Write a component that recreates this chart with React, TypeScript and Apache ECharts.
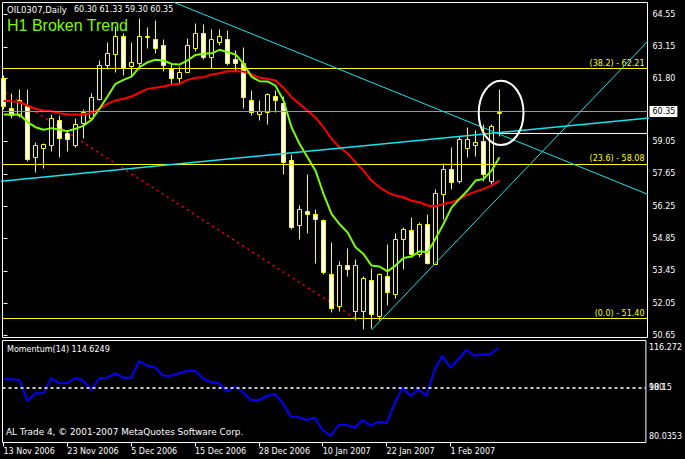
import React, { useEffect, useRef } from "react";
import * as echarts from "echarts";

const symbolName = "OIL0307";
const timeframe = "Daily";

const opens = [61.82, 60.52, 60.18, 60.57, 58.36, 58.75, 58.92, 60.0, 59.4, 58.88, 59.87, 60.09, 60.87, 62.38, 62.86, 63.64, 62.34, 62.43, 63.57, 63.51, 63.21, 62.21, 61.82, 62.08, 63.08, 63.77, 62.69, 63.34, 63.51, 62.64, 62.47, 60.83, 60.26, 60.31, 61.0, 60.74, 58.27, 55.45, 56.06, 55.93, 55.67, 53.33, 51.95, 53.72, 51.73, 51.73, 53.07, 51.51, 53.25, 52.47, 54.81, 55.24, 54.2, 55.5, 53.77, 56.8, 57.84, 57.36, 58.79, 58.88, 59.09, 57.36, 60.3];
const highs = [61.91, 61.13, 61.34, 61.34, 59.02, 59.0, 60.26, 60.22, 59.53, 60.09, 60.48, 61.17, 62.56, 63.34, 64.07, 63.73, 63.34, 64.38, 63.99, 64.29, 63.51, 62.47, 62.34, 63.55, 64.16, 64.12, 63.94, 63.94, 63.86, 63.03, 63.16, 61.26, 60.83, 61.15, 61.26, 61.0, 58.53, 56.32, 57.66, 56.11, 55.71, 54.68, 53.9, 54.42, 53.98, 53.25, 53.59, 53.38, 54.63, 55.07, 55.37, 55.8, 55.58, 55.93, 57.01, 58.14, 58.83, 59.27, 59.66, 59.53, 59.83, 59.83, 61.33];
const lows = [60.48, 60.09, 60.13, 58.22, 57.72, 57.92, 58.66, 58.36, 58.62, 58.8, 59.22, 59.97, 60.83, 62.21, 62.04, 61.91, 61.91, 62.21, 63.08, 62.9, 62.12, 61.56, 61.56, 62.04, 62.99, 62.64, 62.25, 63.21, 62.38, 62.12, 60.52, 60.18, 60.0, 59.83, 60.35, 57.66, 55.28, 54.85, 55.07, 53.81, 53.33, 51.69, 51.73, 53.25, 51.34, 50.95, 50.99, 51.34, 51.99, 52.29, 53.55, 54.07, 54.07, 53.77, 53.77, 55.71, 57.01, 57.27, 58.36, 58.44, 57.36, 57.23, 59.3];
const closes = [60.61, 60.22, 60.83, 58.31, 58.88, 58.96, 60.09, 59.22, 59.14, 59.83, 60.31, 60.96, 62.38, 62.9, 63.64, 62.25, 62.51, 63.64, 63.6, 63.12, 62.38, 61.82, 62.08, 63.25, 63.77, 62.69, 63.47, 63.6, 62.47, 62.43, 60.96, 60.35, 60.39, 61.09, 60.83, 58.18, 55.33, 56.15, 55.93, 55.71, 53.42, 51.86, 53.72, 53.55, 53.72, 53.16, 51.6, 53.33, 52.55, 54.81, 55.28, 54.2, 55.5, 53.81, 56.84, 57.88, 57.32, 59.14, 59.18, 59.05, 57.66, 59.74, 60.35];

const maFast = [60.22, 60.22, 60.22, 59.89, 59.67, 59.56, 59.63, 59.56, 59.5, 59.6, 59.74, 59.99, 60.47, 61.0, 61.55, 61.72, 61.86, 62.27, 62.48, 62.59, 62.56, 62.41, 62.38, 62.56, 62.8, 62.85, 62.87, 63.02, 62.92, 62.82, 62.42, 61.86, 61.66, 61.65, 61.47, 60.83, 59.67, 58.95, 58.37, 57.79, 56.78, 55.92, 55.48, 55.12, 54.47, 54.18, 53.68, 53.64, 53.43, 53.68, 54.01, 54.07, 54.3, 54.26, 54.84, 55.48, 56.19, 56.57, 56.93, 57.36, 57.43, 57.79, 58.37];
const maSlow = [60.8, 60.8, 60.75, 60.61, 60.47, 60.39, 60.36, 60.28, 60.22, 60.22, 60.22, 60.28, 60.47, 60.68, 60.83, 60.9, 61.0, 61.17, 61.33, 61.38, 61.43, 61.52, 61.55, 61.72, 61.81, 61.83, 61.95, 62.01, 62.09, 62.09, 62.08, 61.95, 61.81, 61.77, 61.69, 61.38, 60.97, 60.68, 60.39, 60.09, 59.67, 59.17, 58.8, 58.54, 58.15, 57.79, 57.36, 57.07, 56.85, 56.71, 56.64, 56.49, 56.42, 56.28, 56.25, 56.35, 56.42, 56.57, 56.75, 56.88, 57.0, 57.14, 57.36];

const momentum = [103.38, 103.38, 103.1, 94.45, 97.62, 97.62, 103.8, 101.74, 101.74, 104.04, 102.68, 98.98, 103.8, 104.04, 105.85, 104.04, 104.04, 110.92, 108.98, 108.33, 104.87, 104.87, 105.85, 106.8, 106.92, 103.8, 102.15, 101.74, 98.28, 100.34, 98.03, 94.86, 94.86, 96.51, 97.33, 93.5, 87.98, 87.74, 86.63, 87.57, 82.51, 80.04, 84.56, 84.56, 83.45, 86.63, 84.27, 85.92, 85.27, 93.5, 99.92, 96.63, 99.27, 96.63, 107.21, 113.1, 108.16, 111.74, 115.45, 113.1, 113.68, 113.8, 116.27];
const momentumPeriod = 14;
const momentumHeaderValue = "114.6249";
const momentumTicks = [116.272, 100, 80.0353];
const momentumMidLabel = "98.15";
const momentumLevel = 100;

const priceTicks = [64.55, 63.15, 61.8, 59.05, 57.65, 56.25, 54.85, 53.45, 52.05, 50.65];
const currentPrice = 60.35;

const dateTickBars = [0, 8, 16, 24, 32, 40, 48, 56];
const dateLabels = ["13 Nov 2006", "23 Nov 2006", "5 Dec 2006", "15 Dec 2006", "28 Dec 2006", "10 Jan 2007", "22 Jan 2007", "1 Feb 2007"];

const fibRatios = ["38.2", "23.6", "0.0"];
const fibPrices = [62.21, 58.08, 51.4];
const fibTrend = [[-1, 61.46], [43.94, 51.4]];

const trendDown = [[20, 65.26], [81, 56.7]];
const trendShallow = [[-1, 57.31], [81, 60.08]];
const trendSteep = [[46.0, 50.89], [81, 63.56]];
const highlightLevel = [[62, 59.4], [81.4, 59.4]];
const ellipseCenter = [62.2, 60.29];
const ellipseRadius = [2.8, 1.39];

const titleLabel = "H1 Broken Trend";
const copyright = "AL Trade 4, \u00a9 2001-2007 MetaQuotes Software Corp.";

const X_MIN = -0.125;
const X_MAX = 80.5;
const Y_MIN = 50.567;
const Y_MAX = 65.069;
const M_MIN = 77.36;
const M_MAX = 119.36;

const FONT = "DejaVu Sans";
const FS = 8;
const YELLOW = "#ffff00";
const CYAN = "#17e4ee";

export default function App() {
  const ref = useRef<HTMLDivElement>(null);
  useEffect(() => {
    if (!ref.current) return;
    const chart = echarts.init(ref.current, null, { renderer: "svg" });
    const last = opens.length - 1;
    const headerName = `${symbolName},${timeframe}`;
    const headerOhlc = [opens[last], highs[last], lows[last], closes[last]].map((v) => v.toFixed(2)).join(" ");
    const candleData = opens.map((o, i) => [i, o, highs[i], lows[i], closes[i]]);

    const option: any = {
      backgroundColor: "#000",
      animation: false,
      textStyle: { fontFamily: FONT },
      grid: [
        { left: 2.5, top: 2.5, width: 645, height: 335, show: true, borderColor: "#fff", borderWidth: 1, backgroundColor: "transparent" },
        { left: 2.5, top: 340.5, width: 645, height: 102, show: true, borderColor: "#fff", borderWidth: 1, backgroundColor: "transparent" },
      ],
      xAxis: [
        { type: "value", gridIndex: 0, min: X_MIN, max: X_MAX, show: false },
        {
          type: "value", gridIndex: 1, min: X_MIN, max: X_MAX,
          axisLine: { show: false }, splitLine: { show: false },
          axisTick: { show: true, customValues: dateTickBars, length: 4, lineStyle: { color: "#fff" } },
          axisLabel: {
            customValues: dateTickBars,
            formatter: (v: number) => dateLabels[dateTickBars.indexOf(Math.round(v))] ?? "",
            color: "#fff", fontSize: FS, fontFamily: FONT, align: "left", margin: 5,
          },
        },
      ],
      yAxis: [
        {
          type: "value", gridIndex: 0, position: "right", min: Y_MIN, max: Y_MAX,
          axisLine: { show: false }, splitLine: { show: false },
          axisTick: { show: true, customValues: priceTicks, length: 4, lineStyle: { color: "#fff" } },
          axisLabel: { customValues: priceTicks, formatter: (v: number) => v.toFixed(2), color: "#fff", fontSize: FS, fontFamily: FONT, margin: 5 },
        },
        {
          type: "value", gridIndex: 1, position: "right", min: M_MIN, max: M_MAX,
          axisLine: { show: false }, splitLine: { show: false },
          axisTick: { show: false },
          axisLabel: { customValues: momentumTicks, formatter: (v: number) => String(v), color: "#fff", fontSize: FS, fontFamily: FONT, margin: 3 },
        },
      ],
      series: [
        {
          type: "line", xAxisIndex: 0, yAxisIndex: 0, data: [], z: 1, silent: true,
          markLine: {
            silent: true, symbol: ["none", "none"], animation: false,
            data: [
              {
                yAxis: currentPrice,
                lineStyle: { color: "#8e99a6", width: 1, type: "solid" },
                label: { show: true, position: "end", formatter: currentPrice.toFixed(2), color: "#000", backgroundColor: "#fff", padding: [2, 2, 1, 3], fontSize: FS, fontFamily: FONT, distance: 2 },
              },
              ...fibPrices.map((p, k) => ({
                yAxis: p,
                lineStyle: { color: YELLOW, width: 1, type: "solid" },
                label: { show: true, position: "insideEndTop", formatter: `(${fibRatios[k]}) - ${p.toFixed(2)}`, color: YELLOW, fontSize: FS, fontFamily: FONT, distance: [3, 1] },
              })),
            ],
          },
        },
        {
          type: "line", xAxisIndex: 0, yAxisIndex: 0, data: fibTrend, z: 2, silent: true,
          symbol: "none", lineStyle: { color: "#ff0000", width: 1.5, type: [2, 4] },
        },
        {
          type: "custom", xAxisIndex: 0, yAxisIndex: 0, z: 3, silent: true,
          data: candleData,
          encode: { x: 0, y: [1, 2, 3, 4] },
          renderItem: (params: any, api: any) => {
            const i = api.value(0), o = api.value(1), h = api.value(2), l = api.value(3), c = api.value(4);
            const pHi = api.coord([i, h]);
            const pLo = api.coord([i, l]);
            const pTop = api.coord([i, Math.max(o, c)]);
            const pBot = api.coord([i, Math.min(o, c)]);
            const x = Math.floor(pHi[0]) + 0.5;
            const yT = Math.round(pTop[1]) + 0.5;
            let yB = Math.round(pBot[1]) + 0.5;
            if (yB < yT + 1) yB = yT + 1;
            const bull = c >= o;
            return {
              type: "group",
              children: [
                { type: "line", shape: { x1: x, y1: Math.round(pHi[1]) + 0.5, x2: x, y2: Math.round(pLo[1]) + 0.5 }, style: { stroke: YELLOW, lineWidth: 1 } },
                { type: "rect", shape: { x: x - 2, y: yT, width: 4, height: yB - yT }, style: { fill: bull ? "#000" : "#fff", stroke: YELLOW, lineWidth: 1 } },
              ],
            };
          },
        },
        {
          type: "line", xAxisIndex: 0, yAxisIndex: 0, z: 4, silent: true, symbol: "none",
          data: maSlow.map((v, i) => [i, v]), lineStyle: { color: "#ff0000", width: 2 },
        },
        {
          type: "line", xAxisIndex: 0, yAxisIndex: 0, z: 4, silent: true, symbol: "none",
          data: maFast.map((v, i) => [i, v]), lineStyle: { color: "#7cfc00", width: 2 },
        },
        { type: "line", xAxisIndex: 0, yAxisIndex: 0, z: 5, silent: true, symbol: "none", data: trendDown, lineStyle: { color: CYAN, width: 1 } },
        { type: "line", xAxisIndex: 0, yAxisIndex: 0, z: 5, silent: true, symbol: "none", data: trendShallow, lineStyle: { color: CYAN, width: 1.5 } },
        { type: "line", xAxisIndex: 0, yAxisIndex: 0, z: 5, silent: true, symbol: "none", data: trendSteep, lineStyle: { color: CYAN, width: 1 } },
        { type: "line", xAxisIndex: 0, yAxisIndex: 0, z: 6, silent: true, symbol: "none", clip: false, data: highlightLevel, lineStyle: { color: "#fff", width: 1 } },
        {
          type: "custom", xAxisIndex: 0, yAxisIndex: 0, z: 6, silent: true,
          data: [[ellipseCenter[0], ellipseCenter[1], ellipseRadius[0], ellipseRadius[1]]],
          encode: { x: 0, y: 1 },
          renderItem: (params: any, api: any) => {
            const c = api.coord([api.value(0), api.value(1)]);
            const s = api.size([api.value(2), api.value(3)]);
            const rx = s[0], ry = s[1];
            const d = `M ${c[0] - rx} ${c[1]} A ${rx} ${ry} 0 1 0 ${c[0] + rx} ${c[1]} A ${rx} ${ry} 0 1 0 ${c[0] - rx} ${c[1]} Z`;
            return { type: "path", shape: { pathData: d }, style: { fill: "none", stroke: "#fff", lineWidth: 2 } };
          },
        },
        {
          type: "line", xAxisIndex: 1, yAxisIndex: 1, z: 4, silent: true, symbol: "none",
          data: momentum.map((v, i) => [i, v]), lineStyle: { color: "#0000ff", width: 2 },
          markLine: {
            silent: true, symbol: ["none", "none"], animation: false,
            data: [
              {
                yAxis: momentumLevel,
                lineStyle: { color: "#c8c8c8", width: 2, type: [3, 3] },
                label: { show: true, position: "end", formatter: momentumMidLabel, color: "#fff", fontSize: FS, fontFamily: FONT, distance: 3 },
              },
            ],
          },
        },
      ],
      graphic: [
        { type: "text", left: 7, top: 5, silent: true, style: { text: headerName, fill: "#fff", fontSize: 8.5, fontFamily: FONT } },
        { type: "text", left: 74, top: 5.3, silent: true, style: { text: headerOhlc, fill: "#fff", fontSize: 8, fontFamily: FONT } },
        { type: "text", left: 7, top: 17.5, silent: true, style: { text: titleLabel, fill: "#7cfc00", fontSize: 16, fontFamily: "Liberation Sans" } },
        { type: "text", left: 7, top: 345.5, silent: true, style: { text: `Momentum(${momentumPeriod}) ${momentumHeaderValue}`, fill: "#fff", fontSize: FS, fontFamily: FONT } },
        { type: "text", left: 6, top: 427.5, silent: true, style: { text: copyright, fill: "#fff", fontSize: 8.9, fontFamily: FONT } },
      ],
    };
    chart.setOption(option);
    return () => chart.dispose();
  }, []);
  return (
    <div
      ref={ref}
      style={{ position: "fixed", left: 0, top: 0, width: 685, height: 459, background: "#000" }}
    />
  );
}
